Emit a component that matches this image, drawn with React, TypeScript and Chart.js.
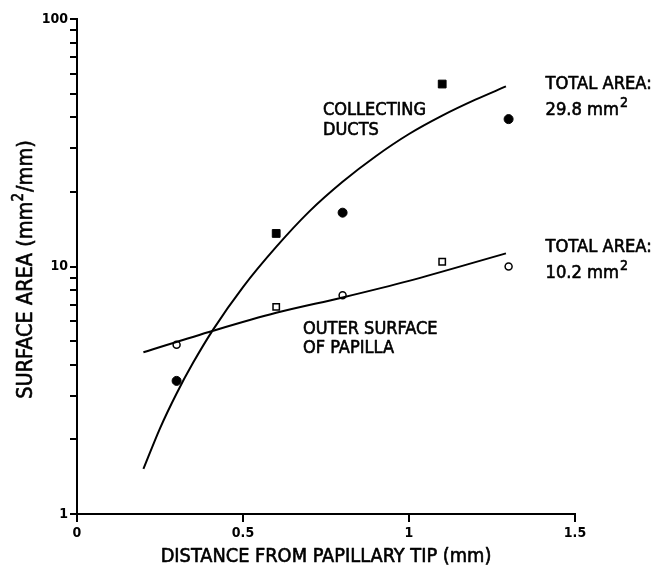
import React, { useEffect, useRef } from "react";
import { Chart, registerables } from "chart.js";

Chart.register(...registerables);

// Smooth fitted curves
const ductsCurveX = [0.2, 0.25, 0.3, 0.35, 0.41, 0.5, 0.6, 0.7, 0.8, 0.9, 1.0, 1.1, 1.2, 1.292];
const ductsCurveY = [1.52, 2.22, 3.07, 4.09, 5.56, 8.26, 12.0, 16.7, 22.0, 27.9, 34.3, 40.7, 47.2, 53.4];
const outerCurveX = [0.2, 0.41, 0.6, 0.8, 1.0, 1.292];
const outerCurveY = [4.5, 5.5, 6.5, 7.5, 8.75, 11.3];

// Measured points
const circleX = [0.3, 0.8, 1.3];
const squareX = [0.6, 1.1];
const ductsCircleY = [3.45, 16.5, 39.4];
const ductsSquareY = [13.6, 54.6];
const outerCircleY = [4.83, 7.65, 10.0];
const outerSquareY = [6.87, 10.45];

const xTicks = [0, 0.5, 1, 1.5];
const yTicks = [1, 2, 3, 4, 5, 6, 7, 8, 9, 10, 20, 30, 40, 50, 60, 70, 80, 90, 100];
const yLabelled = [1, 10, 100];

const xTitle = "DISTANCE FROM PAPILLARY TIP (mm)";
const yTitleParts = ["SURFACE AREA (mm", "2", "/mm)"];
const ductsLabel = ["COLLECTING", "DUCTS"];
const outerLabel = ["OUTER SURFACE", "OF PAPILLA"];
const ductsTotal = ["TOTAL AREA:", "29.8 mm", "2"];
const outerTotal = ["TOTAL AREA:", "10.2 mm", "2"];

const FONT = '"DejaVu Sans Condensed", "DejaVu Sans", sans-serif';

const zip = (xs: number[], ys: number[]) => xs.map((x, i) => ({ x, y: ys[i] }));

// tick marks placed through the chart's own scales
const tickPlugin = {
  id: "tickMarks",
  afterDraw(chart: any) {
    const ctx = chart.ctx as CanvasRenderingContext2D;
    const xs = chart.scales.x;
    const ys = chart.scales.y;
    const left = xs.getPixelForValue(0);
    const bottom = ys.getPixelForValue(1);
    ctx.save();
    ctx.fillStyle = "#000";
    for (const v of yTicks) {
      const py = Math.round(ys.getPixelForValue(v));
      ctx.fillRect(left - 7, py - 1, 7, 2);
    }
    for (const v of xTicks) {
      const px = Math.round(xs.getPixelForValue(v));
      ctx.fillRect(px - 1, bottom, 2, 8);
    }
    ctx.restore();
  },
};

const textPlugin = {
  id: "texts",
  afterDraw(chart: any) {
    const ctx = chart.ctx as CanvasRenderingContext2D;
    const area = chart.chartArea;
    ctx.save();
    ctx.fillStyle = "#000";
    ctx.strokeStyle = "#000";
    ctx.lineWidth = 0.6;
    ctx.lineJoin = "round";
    ctx.textBaseline = "alphabetic";
    ctx.textAlign = "left";
    const put = (t: string, x: number, y: number) => {
      ctx.fillText(t, x, y);
      ctx.strokeText(t, x, y);
    };
    const main = `18px ${FONT}`;
    const sup = `14px ${FONT}`;
    ctx.font = main;
    put(ductsLabel[0], 323, 115);
    put(ductsLabel[1], 323, 135);
    put(outerLabel[0], 303, 333.5);
    put(outerLabel[1], 303, 353);

    const drawTotal = (lines: string[], x: number, y1: number, y2: number) => {
      ctx.font = `18.2px ${FONT}`;
      put(lines[0], x, y1);
      put(lines[1], x, y2);
      const w = ctx.measureText(lines[1]).width;
      ctx.font = sup;
      put(lines[2], x + w + 1, y2 - 8);
    };
    drawTotal(ductsTotal, 545.5, 89, 115);
    drawTotal(outerTotal, 545.5, 252, 277.5);

    // x title
    ctx.font = `19.8px ${FONT}`;
    ctx.textAlign = "center";
    put(xTitle, (area.left + area.right) / 2, 562);

    // y title (rotated)
    ctx.textAlign = "left";
    const yMain = `21.5px ${FONT}`;
    const ySup = `15px ${FONT}`;
    ctx.font = yMain;
    const w0 = ctx.measureText(yTitleParts[0]).width;
    const w2 = ctx.measureText(yTitleParts[2]).width;
    ctx.font = ySup;
    const w1 = ctx.measureText(yTitleParts[1]).width;
    const total = w0 + w1 + 1 + w2;
    ctx.translate(32, 269.5);
    ctx.rotate(-Math.PI / 2);
    let cx = -total / 2;
    ctx.font = yMain;
    put(yTitleParts[0], cx, 0);
    cx += w0;
    ctx.font = ySup;
    put(yTitleParts[1], cx, -9);
    cx += w1 + 1;
    ctx.font = yMain;
    put(yTitleParts[2], cx, 0);
    ctx.restore();
  },
};

export default function App() {
  const ref = useRef<HTMLCanvasElement>(null);
  useEffect(() => {
    if (!ref.current) return;
    const lineBase = {
      type: "line" as const,
      borderColor: "#000",
      borderWidth: 2,
      pointRadius: 0,
      fill: false,
      cubicInterpolationMode: "monotone" as const,
    };
    const chart = new Chart(ref.current, {
      type: "line",
      data: {
        datasets: [
          { ...lineBase, data: zip(ductsCurveX, ductsCurveY) },
          { ...lineBase, data: zip(outerCurveX, outerCurveY) },
          {
            type: "scatter",
            data: zip(circleX, ductsCircleY),
            pointStyle: "circle",
            pointRadius: 4.5,
            backgroundColor: "#000",
            borderColor: "#000",
            borderWidth: 1,
            showLine: false,
          },
          {
            type: "scatter",
            data: zip(squareX, ductsSquareY),
            pointStyle: "rect",
            pointRadius: 5.5,
            backgroundColor: "#000",
            borderColor: "#000",
            borderWidth: 1,
            showLine: false,
          },
          {
            type: "scatter",
            data: zip(circleX, outerCircleY),
            pointStyle: "circle",
            pointRadius: 3.5,
            backgroundColor: "#fff",
            borderColor: "#000",
            borderWidth: 1.5,
            showLine: false,
          },
          {
            type: "scatter",
            data: zip(squareX, outerSquareY),
            pointStyle: "rect",
            pointRadius: 4.5,
            backgroundColor: "#fff",
            borderColor: "#000",
            borderWidth: 1.5,
            showLine: false,
          },
        ] as any,
      },
      options: {
        animation: false,
        responsive: false,
        maintainAspectRatio: false,
        layout: { padding: { left: 0, top: 19, right: 78, bottom: 0 } },
        plugins: { legend: { display: false }, tooltip: { enabled: false } },
        scales: {
          x: {
            type: "linear",
            min: 0,
            max: 1.5,
            afterFit: (s: any) => {
              s.height = 52;
            },
            afterBuildTicks: (s: any) => {
              s.ticks = xTicks.map((v) => ({ value: v }));
            },
            ticks: {
              color: "#000",
              font: { family: FONT, size: 14, weight: "bold" },
              padding: 11,
              maxRotation: 0,
              autoSkip: false,
              callback: (v: any) => String(v),
            },
            grid: { display: false, drawTicks: false },
            border: { display: true, color: "#000", width: 2 },
          },
          y: {
            type: "logarithmic",
            min: 1,
            max: 100,
            afterFit: (s: any) => {
              s.width = 77;
            },
            afterBuildTicks: (s: any) => {
              s.ticks = yTicks.map((v) => ({ value: v, major: yLabelled.includes(v) }));
            },
            ticks: {
              color: "#000",
              font: { family: FONT, size: 14, weight: "bold" },
              padding: 9,
              autoSkip: false,
              callback: (v: any) => (yLabelled.includes(Number(v)) ? String(v) : ""),
            },
            grid: { display: false, drawTicks: false },
            border: { display: true, color: "#000", width: 2 },
          },
        },
      },
      plugins: [tickPlugin, textPlugin],
    });
    return () => chart.destroy();
  }, []);
  return (
    <div style={{ position: "absolute", left: 0, top: 0, width: 653, height: 566, background: "#fff" }}>
      <canvas ref={ref} width={653} height={566} style={{ width: 653, height: 566 }} />
    </div>
  );
}
